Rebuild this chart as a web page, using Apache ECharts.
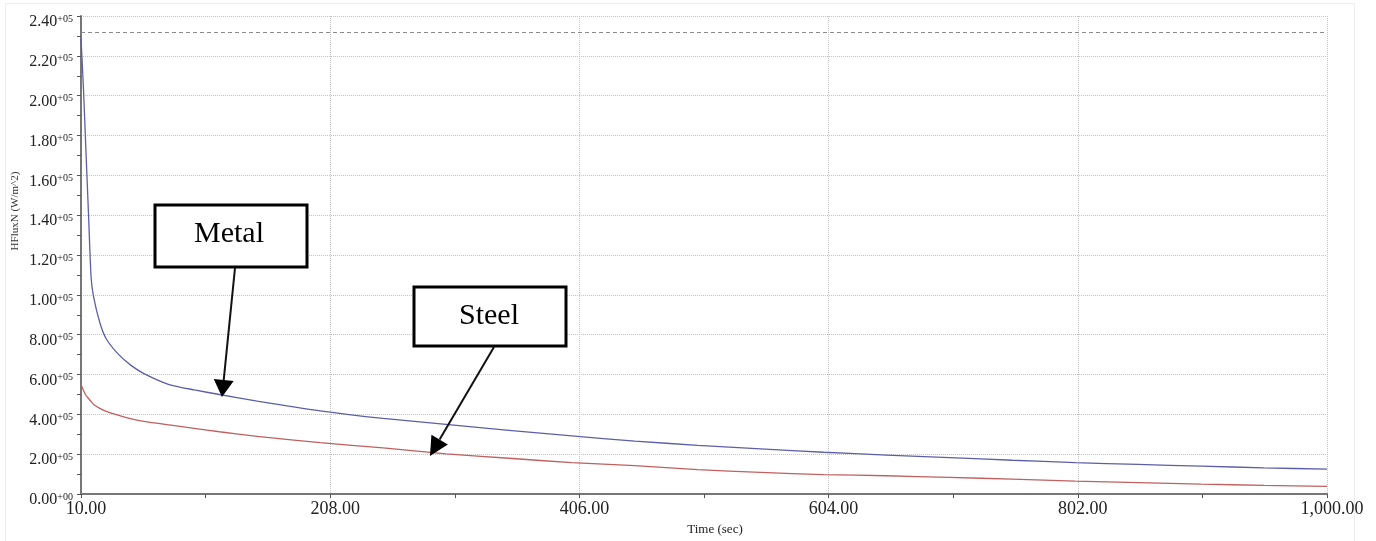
<!DOCTYPE html>
<html>
<head>
<meta charset="utf-8">
<script src="https://cdn.jsdelivr.net/npm/echarts@6/dist/echarts.min.js"></script>
<style>
html,body{margin:0;padding:0;background:#fff;}
#chart{width:1376px;height:541px;}
</style>
</head>
<body>
<div id="chart"></div>
<script>
// ---- data ----
var times = [10, 12, 14, 16, 18, 20, 25, 30, 40, 50, 60, 80, 100, 120, 150, 200, 250, 300, 350, 400, 450, 500, 550, 600, 650, 700, 750, 800, 850, 900, 950, 1000];
var metal = [229000, 203000, 171000, 140000, 109000, 99000, 86000, 78000, 70000, 64500, 60500, 55000, 52300, 50000, 46700, 41800, 38000, 35000, 32000, 29200, 26600, 24500, 22700, 21000, 19600, 18300, 17000, 15800, 14900, 14000, 13200, 12500];
var steel = [55000, 52000, 49500, 48000, 46500, 45000, 43000, 41500, 39500, 37800, 36500, 34700, 33000, 31300, 29000, 25800, 23200, 20200, 18000, 15800, 14300, 12300, 10900, 9800, 9200, 8400, 7500, 6500, 5800, 5000, 4400, 3900];
var limitValue = 232000;
var xTickLabels = ['10.00', '208.00', '406.00', '604.00', '802.00', '1,000.00'];
var yTickLabels = ['0.00+00', '2.00+05', '4.00+05', '6.00+05', '8.00+05', '1.00+05', '1.20+05', '1.40+05', '1.60+05', '1.80+05', '2.00+05', '2.20+05', '2.40+05'];
var xOrigin = 10, xStep = 198, yStep = 20000;

function pairs(vals) {
  return times.map(function (t, i) { return [t - xOrigin, vals[i]]; });
}

var serif = '"Liberation Serif", "DejaVu Serif", serif';
var chart = echarts.init(document.getElementById('chart'));

function arrow(x1, y1, x2, y2, headLen, headW) {
  var dx = x2 - x1, dy = y2 - y1, L = Math.sqrt(dx * dx + dy * dy);
  var ux = dx / L, uy = dy / L, px = -uy, py = ux;
  var bx = x2 - ux * headLen, by = y2 - uy * headLen;
  return [
    { type: 'line', shape: { x1: x1, y1: y1, x2: bx, y2: by }, style: { stroke: '#111', lineWidth: 2 }, z: 100 },
    { type: 'polygon', shape: { points: [[x2, y2], [bx + px * headW / 2, by + py * headW / 2], [bx - px * headW / 2, by - py * headW / 2]] }, style: { fill: '#000' }, z: 100 }
  ];
}

var graphics = [
  { type: 'rect', shape: { x: 5.5, y: 3.5, width: 1349, height: 545 }, style: { fill: 'none', stroke: '#ececec', lineWidth: 1 }, silent: true, z: -1 },
  { type: 'text', x: 15, y: 211, rotation: Math.PI / 2, style: { text: 'HFluxN (W/m^2)', font: '11px ' + serif, fill: '#333', align: 'center', verticalAlign: 'middle' } },
  { type: 'rect', shape: { x: 155, y: 205, width: 152, height: 62 }, style: { fill: '#fff', stroke: '#000', lineWidth: 3 }, z: 100 },
  { type: 'text', x: 229, y: 234, style: { text: 'Metal', font: '30px ' + serif, fill: '#000', align: 'center', verticalAlign: 'middle' }, z: 101 },
  { type: 'rect', shape: { x: 414, y: 287, width: 152, height: 59 }, style: { fill: '#fff', stroke: '#000', lineWidth: 3 }, z: 100 },
  { type: 'text', x: 489, y: 316, style: { text: 'Steel', font: '30px ' + serif, fill: '#000', align: 'center', verticalAlign: 'middle' }, z: 101 }
].concat(arrow(235, 268, 222, 397, 17, 20)).concat(arrow(494, 347, 430, 456, 19, 19));

var option = {
  animation: false,
  backgroundColor: '#fff',
  grid: { left: 81, right: 49, top: 16, bottom: 45, containLabel: false },
  xAxis: {
    type: 'value',
    min: 0, max: 990, interval: xStep,
    name: 'Time (sec)', nameLocation: 'middle', nameGap: 27,
    nameTextStyle: { fontFamily: serif, fontSize: 13, color: '#222', padding: [0, 0, 0, 22] },
    axisLine: { lineStyle: { color: '#777', width: 2 } },
    axisTick: { show: true, length: 4, lineStyle: { color: '#555' } },
    minorTick: { show: true, splitNumber: 2, length: 4, lineStyle: { color: '#555' } },
    splitLine: { show: true, lineStyle: { color: '#c4c4c4', type: 'dotted', width: 1 } },
    axisLabel: {
      margin: 6, fontFamily: serif, fontSize: 18, color: '#222', padding: [0, 0, 0, 10],
      formatter: function (v) { return xTickLabels[Math.round(v / xStep)] || ''; }
    }
  },
  yAxis: {
    type: 'value',
    min: 0, max: 240000, interval: yStep,
    axisLine: { show: true, lineStyle: { color: '#777', width: 2 } },
    axisTick: { show: true, length: 4, lineStyle: { color: '#555' } },
    minorTick: { show: true, splitNumber: 2, length: 4, lineStyle: { color: '#555' } },
    splitLine: { show: true, lineStyle: { color: '#c4c4c4', type: 'dotted', width: 1 } },
    axisLabel: {
      margin: 8, padding: [12, 0, 0, 0],
      formatter: function (v) {
        var s = yTickLabels[Math.round(v / yStep)] || '';
        var k = s.indexOf('+');
        return '{m|' + s.slice(0, k) + '}{s|' + s.slice(k) + '}';
      },
      rich: {
        m: { fontFamily: serif, fontSize: 16, color: '#222', lineHeight: 16, verticalAlign: 'bottom' },
        s: { fontFamily: serif, fontSize: 10, color: '#222', lineHeight: 2, verticalAlign: 'top' }
      }
    }
  },
  series: [
    {
      name: 'Metal', type: 'line', data: pairs(metal), showSymbol: false, symbol: 'none', smooth: 0.2,
      lineStyle: { color: '#5c5fa8', width: 1.3 }, itemStyle: { color: '#5c5fa8' },
      markLine: {
        silent: true, symbol: 'none', label: { show: false },
        lineStyle: { color: '#8a8a8a', type: [4, 3], width: 1 },
        data: [{ yAxis: limitValue }]
      }
    },
    {
      name: 'Steel', type: 'line', data: pairs(steel), showSymbol: false, symbol: 'none', smooth: 0.2,
      lineStyle: { color: '#c0605f', width: 1.3 }, itemStyle: { color: '#c0605f' }
    }
  ],
  graphic: graphics
};
chart.setOption(option);
</script>
</body>
</html>
